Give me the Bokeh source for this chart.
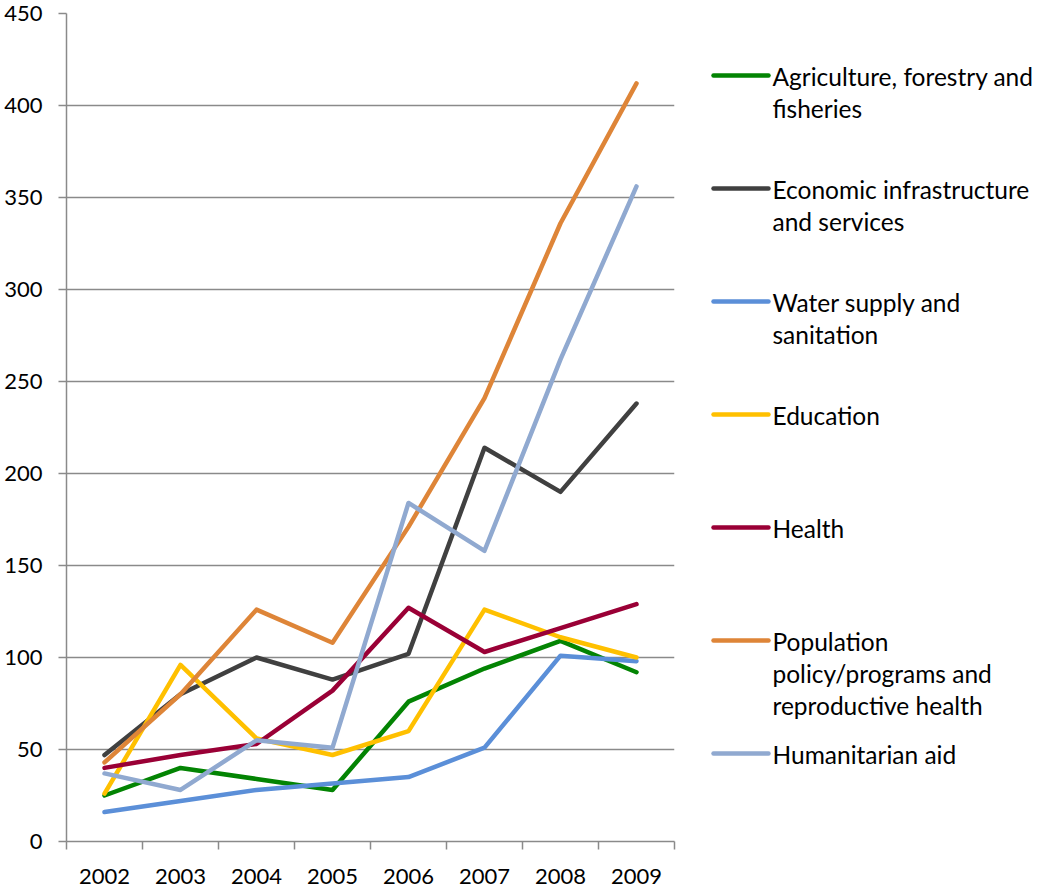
from bokeh.plotting import figure
from bokeh.layouts import row
from bokeh.models import Range1d, FixedTicker, ColumnDataSource
from bokeh.core.properties import value
from bokeh.embed import file_html
from bokeh.resources import INLINE

# ---- data -------------------------------------------------------------
years = ["2002", "2003", "2004", "2005", "2006", "2007", "2008", "2009"]

agriculture = [25, 40, 34, 28, 76, 94, 109, 92]
economic = [47, 80, 100, 88, 102, 214, 190, 238]
water = [16, 22, 28, 31.5, 35, 51, 101, 98]
education = [26, 96, 56, 47, 60, 126, 111, 100]
health = [40, 47, 53, 82, 127, 103, 116, 129]
population = [43, 80, 126, 108, 171, 241, 336, 412]
humanitarian = [37, 28, 55, 51, 184, 158, 262, 356]

series_labels = [
    ["Agriculture, forestry and", "fisheries"],
    ["Economic infrastructure", "and services"],
    ["Water supply and", "sanitation"],
    ["Education"],
    ["Health"],
    ["Population", "policy/programs and", "reproductive health"],
    ["Humanitarian aid"],
]
series_values = [agriculture, economic, water, education, health, population, humanitarian]
series_colors = ["#038403", "#404040", "#5b8fd8", "#ffc000", "#9a0036", "#de8538", "#90a9d0"]

y_ticks = [0, 50, 100, 150, 200, 250, 300, 350, 400, 450]

FONT = "Lato"
GRID = "#8a8a8a"
TOP, BOTTOM = 13, 49
H = 890

# ---- main chart -------------------------------------------------------
n = len(years)
centers = [i + 0.5 for i in range(n)]

p = figure(
    width=690, height=H,
    x_range=Range1d(0, n), y_range=Range1d(0, 450),
    output_backend="svg", toolbar_location=None,
    min_border_left=66, min_border_right=16,
    min_border_top=TOP, min_border_bottom=BOTTOM,
)
p.outline_line_color = None
p.background_fill_color = "white"
p.border_fill_color = "white"

for vals, col in zip(series_values, series_colors):
    src = ColumnDataSource(dict(x=centers, y=vals))
    p.line("x", "y", source=src, line_color=col, line_width=4.5,
           line_join="round", line_cap="round")

# y axis
p.yaxis.ticker = FixedTicker(ticks=y_ticks)
p.yaxis.axis_line_color = GRID
p.yaxis.axis_line_width = 1.5
p.yaxis.major_tick_line_color = GRID
p.yaxis.major_tick_line_width = 1.5
p.yaxis.major_tick_out = 8
p.yaxis.major_tick_in = 0
p.yaxis.minor_tick_line_color = None
p.yaxis.major_label_standoff = 16
p.yaxis.major_label_text_font = FONT
p.yaxis.major_label_text_font_size = "22px"
p.yaxis.major_label_text_color = "#000000"

# x axis: labels at category centres, tick marks on category boundaries
p.xaxis.ticker = FixedTicker(ticks=centers, minor_ticks=list(range(n + 1)))
p.xaxis.major_label_overrides = {c: y for c, y in zip(centers, years)}
p.xaxis.axis_line_color = GRID
p.xaxis.axis_line_width = 1.5
p.xaxis.major_tick_line_color = None
p.xaxis.major_tick_out = 0
p.xaxis.major_tick_in = 0
p.xaxis.minor_tick_line_color = GRID
p.xaxis.minor_tick_line_width = 1.5
p.xaxis.minor_tick_out = 8
p.xaxis.minor_tick_in = 0
p.xaxis.major_label_standoff = 19
p.xaxis.major_label_text_font = FONT
p.xaxis.major_label_text_font_size = "22px"
p.xaxis.major_label_text_color = "#000000"

p.xgrid.grid_line_color = None
p.ygrid.ticker = FixedTicker(ticks=y_ticks)
p.ygrid.grid_line_color = GRID
p.ygrid.grid_line_width = 1.5

# ---- legend panel (coordinates are page pixels) ------------------------
LEG_W = 348
leg = figure(
    width=LEG_W, height=H,
    x_range=Range1d(0, LEG_W), y_range=Range1d(H - BOTTOM, TOP),
    output_backend="svg", toolbar_location=None,
    x_axis_location=None, y_axis_location=None,
    min_border_left=0, min_border_right=0,
    min_border_top=TOP, min_border_bottom=BOTTOM,
)
leg.grid.visible = False
leg.outline_line_color = None
leg.background_fill_color = "white"
leg.border_fill_color = "white"

entry_top = 75
entry_step = 113
line_step = 32
sx0, sx1, tx = 23, 78, 82

seg = dict(x0=[], x1=[], y=[], color=[])
txt = dict(x=[], y=[], text=[])
for i, (lines, col) in enumerate(zip(series_labels, series_colors)):
    yc = entry_top + i * entry_step
    seg["x0"].append(sx0)
    seg["x1"].append(sx1)
    seg["y"].append(yc)
    seg["color"].append(col)
    for k, line in enumerate(lines):
        txt["x"].append(tx)
        txt["y"].append(yc + 1 + k * line_step)
        txt["text"].append(line)

leg.segment(x0="x0", y0="y", x1="x1", y1="y", color="color",
            source=ColumnDataSource(seg), line_width=4.5, line_cap="round")
leg.text(x="x", y="y", text="text", source=ColumnDataSource(txt),
         text_font=value(FONT), text_font_size="24.5px", text_color="#000000",
         text_baseline="middle", text_align="left")

layout = row(p, leg, spacing=0)
open("out.html", "w").write(file_html(layout, INLINE))
